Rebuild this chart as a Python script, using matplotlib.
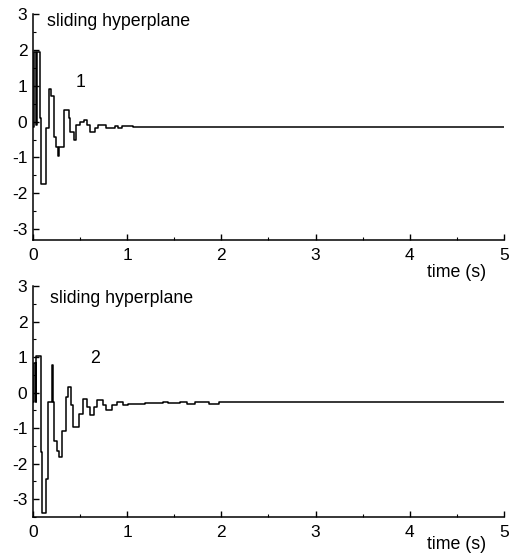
import numpy as np
import matplotlib
matplotlib.use('Agg')
from matplotlib import pyplot as plt
from matplotlib.ticker import MultipleLocator

# step responses: (switch time, value held afterwards)
top_t = [0.0, 0.0, 0.01, 0.03, 0.04, 0.074, 0.088, 0.135, 0.17, 0.195, 0.226,
         0.245, 0.27, 0.28, 0.33, 0.38, 0.395, 0.43, 0.46, 0.50, 0.545, 0.575,
         0.605, 0.655, 0.685, 0.775, 0.87, 0.90, 0.95, 1.06, 5.0]
top_v = [-0.14, -0.14, 1.95, -0.10, 1.95, 0.09, -1.74, -0.18, 0.90, 0.72, -0.42,
         -0.70, -0.95, -0.70, 0.33, 0.09, -0.28, -0.51, -0.09, 0.00, 0.05, -0.09,
         -0.30, -0.18, -0.09, -0.18, -0.11, -0.18, -0.13, -0.16, -0.16]

bot_t = [0.0, 0.0, 0.01, 0.028, 0.035, 0.082, 0.096, 0.138, 0.156, 0.198, 0.209,
         0.226, 0.258, 0.279, 0.312, 0.350, 0.368, 0.40, 0.421, 0.488, 0.527,
         0.577, 0.605, 0.648, 0.676, 0.74, 0.78, 0.835, 0.888, 0.96, 1.01, 1.19,
         1.385, 1.437, 1.56, 1.63, 1.72, 1.87, 1.975, 5.0]
bot_v = [-0.27, -0.27, 0.82, -0.27, 1.02, -1.68, -3.38, -2.43, -0.27, 0.77, -0.27,
         -1.35, -1.63, -1.82, -1.07, -0.13, 0.16, -0.36, -0.97, -0.60, -0.17,
         -0.41, -0.64, -0.41, -0.22, -0.36, -0.50, -0.36, -0.27, -0.36, -0.31, -0.29,
         -0.25, -0.30, -0.27, -0.32, -0.27, -0.32, -0.27, -0.27]

x_ticks = [0, 1, 2, 3, 4, 5]
y_ticks = [-3, -2, -1, 0, 1, 2, 3]

plt.rcParams['font.family'] = ['Liberation Sans', 'DejaVu Sans']
plt.rcParams['axes.unicode_minus'] = False

fig = plt.figure(figsize=(5.1, 5.53), dpi=100)
ax1 = fig.add_axes([0.0647, 0.566, 0.9235, 0.4087])
ax2 = fig.add_axes([0.0647, 0.0651, 0.9235, 0.4177])

panels = [
    (ax1, top_t, top_v, (-3.3, 3.0), '1', (0.50, 1.08), (0.152, 2.79), -0.142),
    (ax2, bot_t, bot_v, (-3.5, 3.0), '2', (0.658, 0.96), (0.18, 2.65), -0.121),
]

for ax, t, v, ylim, tag, tag_xy, title_xy, time_y in panels:
    ax.plot(t, v, drawstyle='steps-post', color='black', lw=1.1)
    ax.set_xlim(0, 5)
    ax.set_ylim(*ylim)
    ax.set_xticks(x_ticks)
    ax.set_yticks(y_ticks)
    ax.xaxis.set_minor_locator(MultipleLocator(0.5))
    ax.yaxis.set_minor_locator(MultipleLocator(0.5))
    ax.tick_params(which='major', direction='in', length=4, width=1.0,
                   labelsize=12.5, pad=4)
    ax.tick_params(which='minor', direction='in', length=2.5, width=0.8)
    ax.tick_params(axis='x', which='major', pad=6)
    ax.spines['top'].set_visible(False)
    ax.spines['right'].set_visible(False)
    ax.spines['left'].set_linewidth(1.1)
    ax.spines['bottom'].set_linewidth(1.1)
    ax.spines['left'].set_bounds(ylim[0], 3.0)
    ax.text(title_xy[0], title_xy[1], 'sliding hyperplane', fontsize=12.8,
            ha='left', va='center')
    ax.text(tag_xy[0], tag_xy[1], tag, fontsize=12.8, ha='center', va='center')
    ax.text(0.837, time_y, 'time (s)', fontsize=12.8, ha='left', va='center',
            transform=ax.transAxes)

fig.savefig('out.png', dpi=100)
